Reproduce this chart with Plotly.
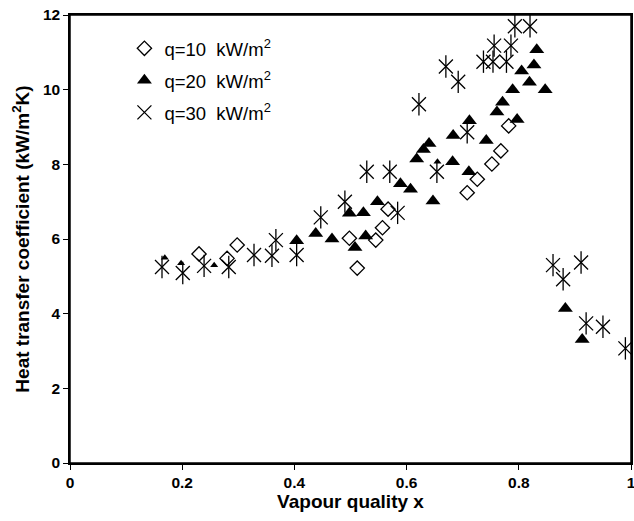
import plotly.graph_objects as go

# q = 10 kW/m2 (open diamonds)
x_q10 = [0.230, 0.280, 0.298, 0.498, 0.512, 0.545, 0.557, 0.567, 0.708, 0.726, 0.752, 0.768, 0.782]
y_q10 = [5.60, 5.48, 5.84, 6.02, 5.22, 5.97, 6.30, 6.80, 7.24, 7.60, 8.01, 8.36, 9.03]

# q = 20 kW/m2 (filled triangles)
x_q20 = [0.404, 0.438, 0.467, 0.498, 0.523, 0.508, 0.527, 0.548, 0.589, 0.607,
         0.618, 0.630, 0.640, 0.647, 0.683, 0.682, 0.711, 0.712, 0.742, 0.761,
         0.771, 0.789, 0.797, 0.805, 0.819, 0.827, 0.832, 0.847, 0.883, 0.913]
y_q20 = [5.95, 6.15, 6.00, 6.69, 6.70, 5.77, 6.08, 7.00, 7.48, 7.33,
         8.14, 8.40, 8.56, 7.02, 8.77, 8.07, 7.80, 9.17, 8.64, 9.40,
         9.66, 10.00, 9.20, 10.50, 10.20, 10.66, 11.07, 10.00, 4.14, 3.31]
# partly hidden (small) q = 20 points
x_q20_small = [0.169, 0.198, 0.257, 0.655]
y_q20_small = [5.50, 5.35, 5.30, 8.07]

# q = 30 kW/m2 (asterisks)
x_q30 = [0.164, 0.201, 0.239, 0.283, 0.328, 0.360, 0.367, 0.404, 0.447, 0.490,
         0.529, 0.570, 0.584, 0.654, 0.622, 0.670, 0.692, 0.708, 0.737, 0.754,
         0.778, 0.756, 0.786, 0.793, 0.820, 0.861, 0.911, 0.879, 0.920, 0.950, 0.990]
y_q30 = [5.25, 5.09, 5.28, 5.25, 5.57, 5.55, 5.97, 5.57, 6.58, 7.00,
         7.80, 7.80, 6.70, 7.80, 9.61, 10.62, 10.21, 8.86, 10.75, 10.75,
         10.75, 11.18, 11.18, 11.70, 11.70, 5.30, 5.37, 4.92, 3.74, 3.65, 3.07]

legend_labels = ["q=10  kW/m<sup>2</sup>", "q=20  kW/m<sup>2</sup>", "q=30  kW/m<sup>2</sup>"]
x_ticks = [0, 0.2, 0.4, 0.6, 0.8, 1]
x_tick_text = ["0", "0.2", "0.4", "0.6", "0.8", "1"]
y_ticks = [0, 2, 4, 6, 8, 10, 12]

FAMILY = "Liberation Sans, Arial, sans-serif"

fig = go.Figure()

fig.add_trace(go.Scatter(
    x=x_q10, y=y_q10, mode="markers", name=legend_labels[0], legendgroup="a",
    marker=dict(symbol="diamond-open", size=11, color="black", line=dict(width=1.3, color="black")),
    cliponaxis=False))

fig.add_trace(go.Scatter(
    x=x_q20, y=y_q20, mode="markers", name=legend_labels[1], legendgroup="b",
    marker=dict(symbol="triangle-up", size=13, color="black", line=dict(width=0)),
    cliponaxis=False))
fig.add_trace(go.Scatter(
    x=x_q20_small, y=y_q20_small, mode="markers", showlegend=False, legendgroup="b",
    marker=dict(symbol="triangle-up", size=7, color="black", line=dict(width=0)),
    cliponaxis=False))

fig.add_trace(go.Scatter(
    x=x_q30, y=y_q30, mode="markers", name=legend_labels[2], legendgroup="c",
    marker=dict(symbol="x-thin-open", size=14, color="black", line=dict(width=1.3, color="black")),
    cliponaxis=False))
fig.add_trace(go.Scatter(
    x=x_q30, y=y_q30, mode="markers", showlegend=False, legendgroup="c",
    marker=dict(symbol="line-ns-open", size=16, color="black", line=dict(width=1.3, color="black")),
    cliponaxis=False))

tick_font = dict(family=FAMILY, size=15.5, color="black")
title_font = dict(family=FAMILY, size=19, color="black")

fig.add_shape(type="rect", xref="paper", yref="paper", x0=0, x1=1, y0=0, y1=1,
              line=dict(color="black", width=1.5), fillcolor="rgba(0,0,0,0)", layer="above")

fig.update_layout(
    width=634, height=521,
    margin=dict(l=70, r=3, t=15, b=58, autoexpand=False),
    paper_bgcolor="white", plot_bgcolor="white",
    font=dict(family=FAMILY, color="black"),
    showlegend=True,
    legend=dict(x=0.097, y=0.967, xanchor="left", yanchor="top",
                bgcolor="rgba(0,0,0,0)", borderwidth=0,
                font=dict(family=FAMILY, size=18.5, color="black"),
                traceorder="grouped", tracegroupgap=5, itemwidth=30),
    xaxis=dict(range=[0, 1], tickvals=x_ticks, ticktext=["<b>%s</b>" % t for t in x_tick_text],
               showgrid=False, zeroline=False, showline=True, linecolor="black", linewidth=1.5,
               mirror=True, ticks="outside", ticklen=5, tickwidth=1.2, tickcolor="black",
               tickfont=tick_font, automargin=False, ticklabeloverflow="allow",
               title=dict(text="<b>Vapour quality x</b>", font=title_font, standoff=0)),
    yaxis=dict(range=[0, 12], tickvals=y_ticks, ticktext=["<b>%d</b>" % t for t in y_ticks],
               showgrid=False, zeroline=False, showline=True, linecolor="black", linewidth=1.5,
               mirror=True, ticks="outside", ticklen=5, tickwidth=1.2, tickcolor="black",
               tickfont=tick_font, automargin=False, ticklabeloverflow="allow",
               title=dict(text="<b>Heat transfer coefficient (kW/m<sup>2</sup>K)</b>", font=title_font, standoff=8)),
)

fig.write_html("out.html", config={"displayModeBar": False},
               post_script="document.body.style.margin='0px';")
